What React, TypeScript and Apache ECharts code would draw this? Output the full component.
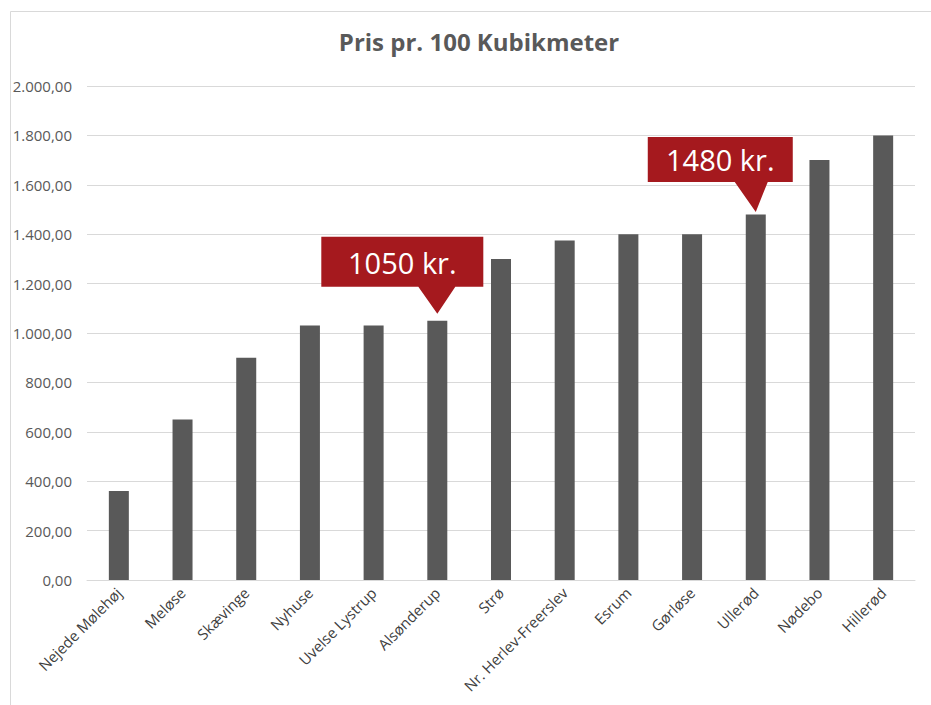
import React, { useEffect, useRef } from "react";
import * as echarts from "echarts";

const categories = [
  "Nejede Mølehøj",
  "Meløse",
  "Skævinge",
  "Nyhuse",
  "Uvelse Lystrup",
  "Alsønderup",
  "Strø",
  "Nr. Herlev-Freerslev",
  "Esrum",
  "Gørløse",
  "Ullerød",
  "Nødebo",
  "Hillerød",
];
const prices = [360, 650, 900, 1030, 1030, 1050, 1300, 1375, 1400, 1400, 1480, 1700, 1800];
const callouts = [
  { category: "Alsønderup", value: 1050, text: "1050 kr." },
  { category: "Ullerød", value: 1480, text: "1480 kr." },
];
const titleText = "Pris pr. 100 Kubikmeter";

function fmtDa(v: number): string {
  const fixed = v.toFixed(2);
  const [ip, dp] = fixed.split(".");
  const withSep = ip.replace(/\B(?=(\d{3})+(?!\d))/g, ".");
  return withSep + "," + dp;
}

// callout shapes, coordinates relative to the pointer tip (0,0)
const shape1 = "path://M-116,-77L46,-77L46,-27L18,-27L0,0L-19,-27L-116,-27Z";
const shape2 = "path://M-108,-75L37,-75L37,-30L12,-30L0,0L-21,-30L-108,-30Z";

export default function App() {
  const ref = useRef<HTMLDivElement>(null);
  useEffect(() => {
    if (!ref.current) return;
    const chart = echarts.init(ref.current, undefined, { renderer: "svg" });
    const font = "'Open Sans', 'Segoe UI', sans-serif";
    const red = "#A5191E";
    chart.setOption({
      animation: false,
      backgroundColor: "#ffffff",
      title: {
        text: titleText,
        left: 474,
        top: 24,
        textAlign: "center",
        textStyle: { fontFamily: font, fontWeight: "bold", fontSize: 24, color: "#595959" },
      },
      graphic: [
        { type: "line", shape: { x1: 10.5, y1: 11.5, x2: 931, y2: 11.5 }, style: { stroke: "#D9D9D9", lineWidth: 1 } },
        { type: "line", shape: { x1: 10.5, y1: 11.5, x2: 10.5, y2: 705 }, style: { stroke: "#D9D9D9", lineWidth: 1 } },
      ],
      grid: { left: 87, right: 16, top: 86, bottom: 125, containLabel: false },
      xAxis: {
        type: "category",
        data: categories,
        axisLine: { show: true, lineStyle: { color: "#D9D9D9" } },
        axisTick: { show: false },
        axisLabel: {
          rotate: 45,
          interval: 0,
          margin: 10,
          fontFamily: font,
          fontSize: 15,
          color: "#404040",
        },
      },
      yAxis: {
        type: "value",
        min: 0,
        max: 2000,
        interval: 200,
        axisLine: { show: false },
        axisTick: { show: false },
        splitLine: { lineStyle: { color: "#D9D9D9" } },
        axisLabel: {
          margin: 15,
          fontFamily: font,
          fontSize: 15,
          color: "#595959",
          formatter: (v: number) => fmtDa(v),
        },
      },
      series: [
        {
          type: "bar",
          data: prices,
          barWidth: 20,
          itemStyle: { color: "#595959" },
          markPoint: {
            silent: true,
            data: [
              {
                coord: [callouts[0].category, callouts[0].value],
                symbol: shape1,
                symbolSize: [162, 77],
                symbolKeepAspect: false,
                symbolOffset: [-35, -45.5],
                itemStyle: { color: red },
                label: {
                  show: true,
                  position: "inside",
                  offset: [0, -13],
                  formatter: callouts[0].text,
                  color: "#ffffff",
                  fontFamily: font,
                  fontSize: 29,
                },
              },
              {
                coord: [callouts[1].category, callouts[1].value],
                symbol: shape2,
                symbolSize: [145, 75],
                symbolKeepAspect: false,
                symbolOffset: [-35.5, -40],
                itemStyle: { color: red },
                label: {
                  show: true,
                  position: "inside",
                  offset: [0, -15],
                  formatter: callouts[1].text,
                  color: "#ffffff",
                  fontFamily: font,
                  fontSize: 29,
                },
              },
            ],
          },
        },
      ],
    });
    return () => chart.dispose();
  }, []);
  return (
    <div
      ref={ref}
      style={{ position: "fixed", left: 0, top: 0, width: 931, height: 705, background: "#fff" }}
    />
  );
}
